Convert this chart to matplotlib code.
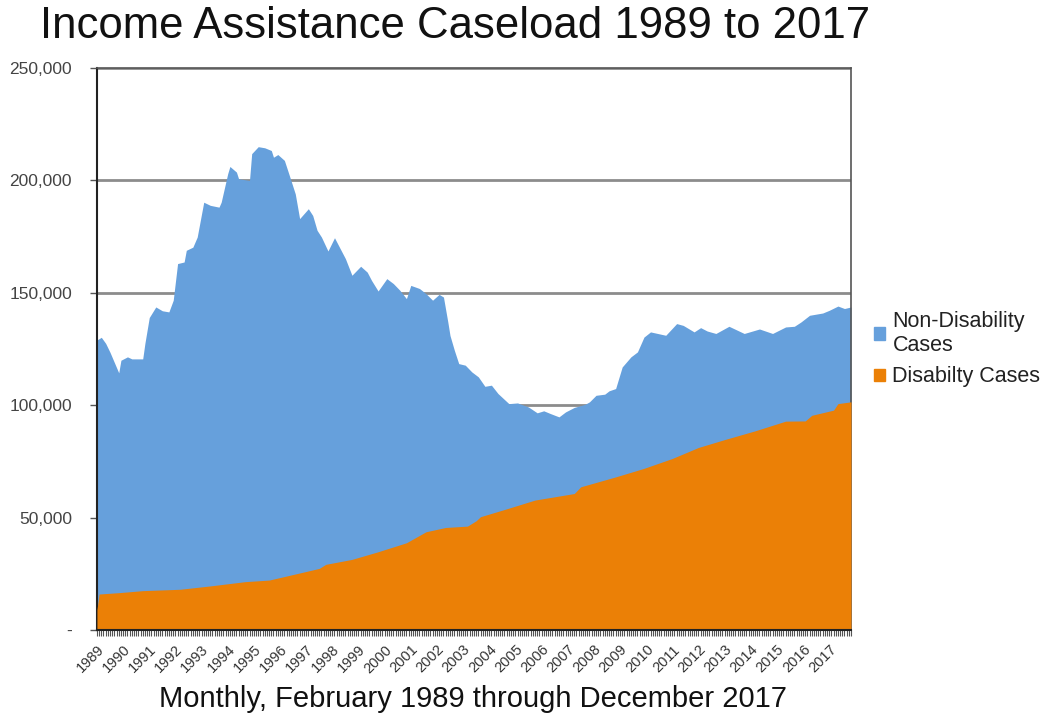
import matplotlib.pyplot as plt
from matplotlib.patches import Patch
from matplotlib.ticker import FuncFormatter, MultipleLocator
import numpy as np

plt.rcParams['font.family'] = ['Liberation Sans', 'DejaVu Sans']

# months counted from February 1989 (0) to December 2017 (346)
total_months = [0, 2, 4, 6, 10, 11, 14, 16, 21, 22, 24, 27, 30, 33, 35, 37, 40, 41, 44, 46,
                49, 52, 56, 57, 60, 61, 64, 65, 70, 71, 74, 77, 80, 81, 83, 86, 88, 91, 93, 97,
                99, 101, 103, 106, 109, 112, 114, 117, 121, 124, 126, 129, 133, 136, 139, 142, 144, 148, 151, 154,
                157, 159, 161, 162, 164, 166, 169, 172, 175, 178, 181, 184, 189, 193, 198, 202, 205, 208, 212, 215,
                219, 224, 226, 229, 233, 235, 238, 241, 245, 248, 251, 254, 261, 266, 269, 274, 277, 280, 284, 290,
                297, 304, 310, 316, 320, 323, 327, 333, 336, 340, 343, 346]
total_cases = [129000, 130200, 127500, 123500, 114400, 120000, 121500, 120600, 120600, 127500,
               139000, 143700, 142000, 141500, 146700, 163000, 163700, 168900, 170300, 174800,
               190300, 188900, 188100, 190300, 203000, 206200, 203700, 200700, 200000, 211900,
               215000, 214500, 213300, 210300, 211500, 208900, 203000, 194000, 183000, 187400,
               184400, 177800, 174800, 168600, 174500, 168900, 165200, 157800, 161800, 159200,
               155500, 150800, 156300, 154100, 151100, 147400, 153300, 151900, 149600, 146700,
               149300, 148100, 137000, 131000, 124400, 118500, 117800, 114800, 112600, 108400,
               108900, 105200, 100700, 101000, 99200, 96600, 97500, 96300, 94800, 97000,
               99000, 100400, 101500, 104400, 104900, 106400, 107400, 117000, 121500, 123700,
               130300, 132600, 131100, 136300, 135500, 132600, 134500, 133000, 131900, 135100,
               131900, 133900, 131900, 134800, 135100, 137000, 140000, 141000, 142200, 144100,
               143000, 143700]

disability_months = [0, 1, 10, 21, 38, 52, 68, 79, 91, 102, 105, 117, 129, 142, 151, 160, 170, 172,
                     174, 176, 187, 201, 219, 222, 238, 251, 264, 276, 288, 302, 316, 325, 328, 338,
                     340, 346]
disability_cases = [9000, 16000, 16600, 17500, 18100, 19600, 21500, 22200, 24900, 27400, 29200,
                    31400, 34800, 38800, 43700, 45600, 46200, 47400, 48600, 50400, 53600, 57800,
                    60700, 63700, 68100, 71900, 76300, 81200, 84700, 88600, 92900, 93000, 95500,
                    97800, 100700, 101500]

years = list(range(1989, 2018))
year_ticks = [12 * i for i in range(len(years))]

blue = '#66a0dc'
orange = '#eb8006'

fig = plt.figure(figsize=(10.47, 7.15), dpi=100)
ax = fig.add_axes([0.0926, 0.1189, 0.7202, 0.786])

ax.fill_between(total_months, 0, total_cases, color=blue, lw=0, zorder=2)
ax.fill_between(disability_months, 0, disability_cases, color=orange, lw=0, zorder=3)

ax.set_xlim(0, 346)
ax.set_ylim(0, 250000)

ax.yaxis.set_major_locator(MultipleLocator(50000))
ax.yaxis.set_major_formatter(FuncFormatter(lambda v, p: '-' if v == 0 else f'{int(v):,}'))
ax.grid(axis='y', color='#8c8c8c', lw=2, zorder=1)
ax.set_axisbelow(True)

ax.set_xticks(year_ticks)
ax.set_xticklabels([str(y) for y in years], rotation=45, ha='right', va='top',
                   rotation_mode='anchor', fontsize=10.5, color='#333333')
ax.set_xticks(range(0, 347), minor=True)
ax.tick_params(axis='x', which='both', direction='out', length=4, width=0.8, color='#555555', pad=5)
ax.tick_params(axis='y', direction='out', length=5, width=1, color='#555555', pad=13,
               labelsize=12.5, labelcolor='#444444')

for s in ['left', 'bottom']:
    ax.spines[s].set_color('#222222')
    ax.spines[s].set_linewidth(1.5)
for s in ['top', 'right']:
    ax.spines[s].set_color('#555555')
    ax.spines[s].set_linewidth(1.2)
ax.spines['bottom'].set_zorder(5)

fig.text(0.435, 0.963, 'Income Assistance Caseload 1989 to 2017', ha='center', va='center',
         fontsize=31.5, color='#111111')
fig.text(0.452, 0.022, 'Monthly, February 1989 through December 2017', ha='center', va='center',
         fontsize=21, color='#111111')

handles = [Patch(color=blue, label='Non-Disability\nCases'),
           Patch(color=orange, label='Disabilty Cases')]
ax.legend(handles=handles, loc='center left', bbox_to_anchor=(1.005, 0.5), frameon=False,
          fontsize=15.5, handlelength=0.5, handleheight=0.5, handletextpad=0.35,
          labelspacing=0.5, labelcolor='#222222')

fig.savefig('out.png', dpi=100)
